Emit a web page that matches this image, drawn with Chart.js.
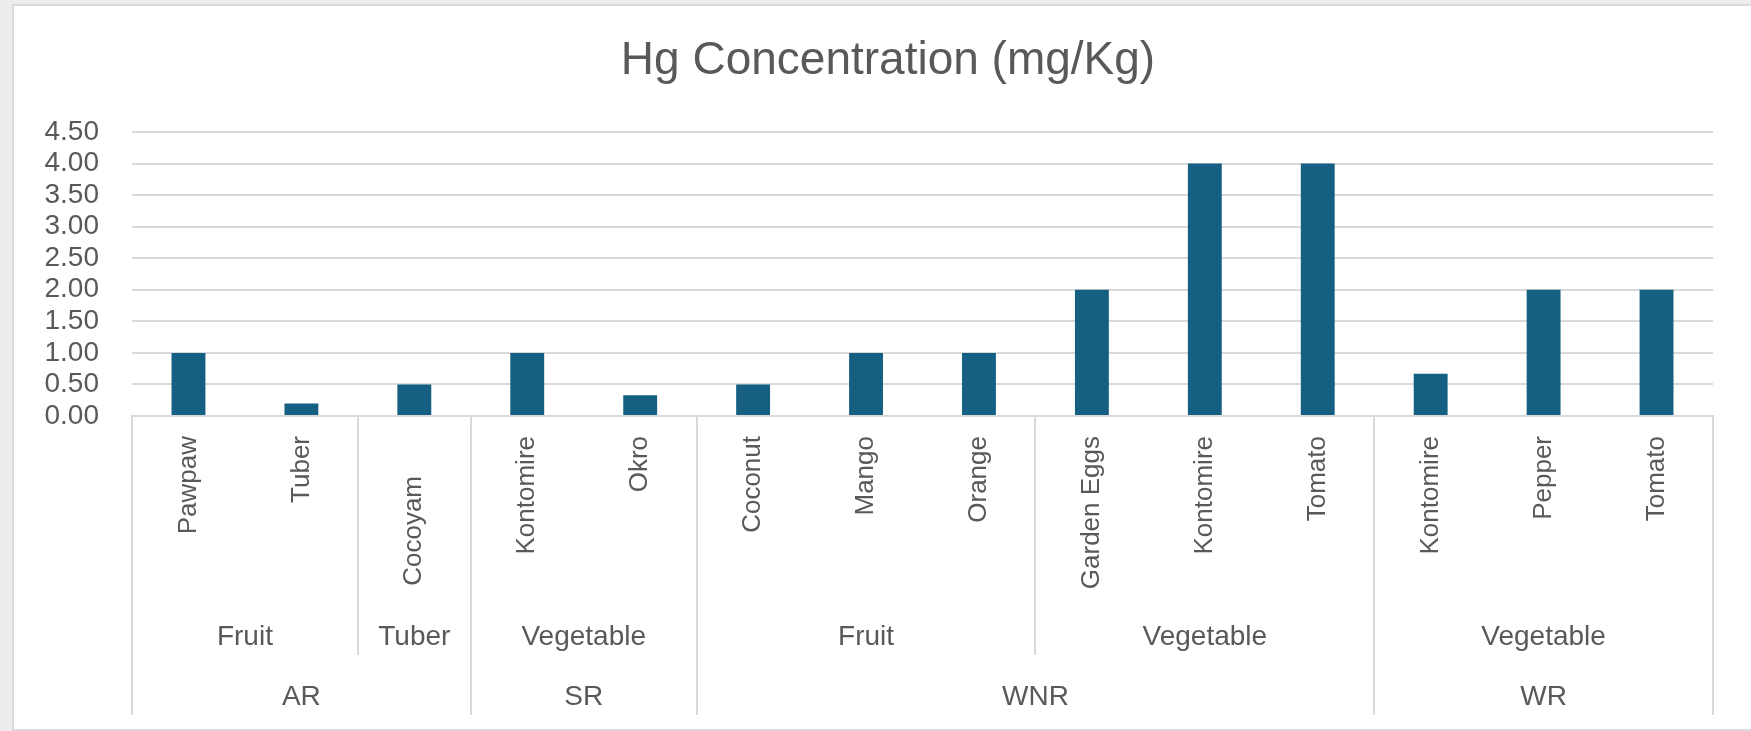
<!DOCTYPE html>
<html>
<head>
<meta charset="utf-8">
<script src="https://cdn.jsdelivr.net/npm/chart.js@4.4.1/dist/chart.umd.min.js"></script>
<style>
  html, body { margin: 0; padding: 0; background: #ececec; width: 1751px; height: 731px; overflow: hidden; }
  #card { position: absolute; left: 12px; top: 4px; width: 1800px; height: 727px; background: #ffffff;
          border: 2px solid #dadada; box-sizing: border-box; }
  #c { position: absolute; left: 14px; top: 6px; }
</style>
</head>
<body>
<div id="card"></div>
<canvas id="c" width="1737" height="724"></canvas>
<script>
// ---- data ----
const categories = ['Pawpaw', 'Tuber', 'Cocoyam', 'Kontomire', 'Okro', 'Coconut', 'Mango', 'Orange',
                    'Garden Eggs', 'Kontomire', 'Tomato', 'Kontomire', 'Pepper', 'Tomato'];
const hgValues = [1.0, 0.2, 0.5, 1.0, 0.33, 0.5, 1.0, 1.0, 2.0, 4.0, 4.0, 0.67, 2.0, 2.0];
const typeLabels = ['Fruit', 'Tuber', 'Vegetable', 'Fruit', 'Vegetable', 'Vegetable'];
const typeSpans = [2, 1, 2, 3, 3, 3];
const siteLabels = ['AR', 'SR', 'WNR', 'WR'];
const siteSpans = [3, 2, 6, 3];
const yTicks = [0, 0.5, 1.0, 1.5, 2.0, 2.5, 3.0, 3.5, 4.0, 4.5];
const chartTitle = 'Hg Concentration (mg/Kg)';

// ---- style ----
const FONT = "'Liberation Sans', Arial, sans-serif";
const TEXT = '#595959';
const LINE = '#d9d9d9';
const STYLE = {
  l1Font: '26px ' + FONT, l1Top: 20, l1Shift: { 2: 40 },
  l2Font: '28px ' + FONT, l2Base: 229, l2Line: 239,
  l3Font: '28px ' + FONT, l3Base: 289, l3Line: 299,
  axisHeight: 300
};

function bounds(spans) {
  const out = [0]; let acc = 0;
  spans.forEach(s => { acc += s; out.push(acc); });
  return out;
}

const multiLevelAxis = {
  id: 'multiLevelAxis',
  afterDraw(chart) {
    const x = chart.scales.x;
    const area = chart.chartArea;
    const ctx = chart.ctx;
    const base = area.bottom;
    const n = categories.length;
    const edge = i => i <= 0 ? area.left : (i >= n ? area.right :
      (x.getPixelForValue(i - 1) + x.getPixelForValue(i)) / 2);
    ctx.save();
    ctx.fillStyle = TEXT;
    // level 1: rotated item labels
    ctx.font = STYLE.l1Font;
    categories.forEach((lab, i) => {
      ctx.save();
      ctx.translate(x.getPixelForValue(i), base + STYLE.l1Top + (STYLE.l1Shift[i] || 0));
      ctx.rotate(-Math.PI / 2);
      ctx.textAlign = 'right';
      ctx.textBaseline = 'middle';
      ctx.fillText(lab, 0, 0);
      ctx.restore();
    });
    // dividers
    const tb = bounds(typeSpans), sb = bounds(siteSpans);
    const all = Array.from(new Set(tb.concat(sb)));
    ctx.strokeStyle = LINE;
    ctx.lineWidth = 2;
    all.forEach(b => {
      const px = Math.round(edge(b));
      const len = sb.includes(b) ? STYLE.l3Line : STYLE.l2Line;
      ctx.beginPath();
      ctx.moveTo(px, base);
      ctx.lineTo(px, base + len);
      ctx.stroke();
    });
    // level 2 labels
    ctx.textAlign = 'center';
    ctx.textBaseline = 'alphabetic';
    ctx.font = STYLE.l2Font;
    typeLabels.forEach((lab, k) => {
      const cx = (edge(tb[k]) + edge(tb[k + 1])) / 2;
      ctx.fillText(lab, cx, base + STYLE.l2Base);
    });
    // level 3 labels
    ctx.font = STYLE.l3Font;
    siteLabels.forEach((lab, k) => {
      const cx = (edge(sb[k]) + edge(sb[k + 1])) / 2;
      ctx.fillText(lab, cx, base + STYLE.l3Base);
    });
    ctx.restore();
  }
};

new Chart(document.getElementById('c'), {
  type: 'bar',
  data: {
    labels: categories,
    datasets: [{
      data: hgValues,
      backgroundColor: '#156082',
      borderWidth: 0,
      barPercentage: 0.3,
      categoryPercentage: 1.0
    }]
  },
  options: {
    responsive: false,
    animation: false,
    devicePixelRatio: 1,
    layout: { padding: { left: 11, right: 0, top: 0, bottom: 14 } },
    plugins: {
      legend: { display: false },
      tooltip: { enabled: false },
      title: {
        display: true,
        text: chartTitle,
        color: TEXT,
        font: { family: FONT, size: 46, weight: 'normal', lineHeight: 1.2 },
        padding: { top: 28, bottom: 42.8 }
      }
    },
    scales: {
      x: {
        type: 'category',
        grid: { display: false },
        border: { display: true, color: LINE, width: 2 },
        ticks: { display: false },
        afterFit(scale) { scale.height = STYLE.axisHeight; }
      },
      y: {
        min: yTicks[0],
        max: yTicks[yTicks.length - 1],
        border: { display: false },
        grid: { color: LINE, lineWidth: 2, drawTicks: false },
        afterBuildTicks(scale) { scale.ticks = yTicks.map(v => ({ value: v })); },
        ticks: {
          autoSkip: false,
          padding: 33,
          color: TEXT,
          font: { family: FONT, size: 28, lineHeight: 1.0 },
          callback: v => Number(v).toFixed(2)
        },
        afterFit(scale) { scale.width = 107; }
      },
      yRightSpace: {
        position: 'right',
        display: true,
        min: 0,
        max: 1,
        grid: { display: false, drawTicks: false },
        border: { display: false },
        ticks: { display: false },
        afterFit(scale) { scale.width = 38; }
      }
    }
  },
  plugins: [multiLevelAxis]
});
</script>
</body>
</html>
